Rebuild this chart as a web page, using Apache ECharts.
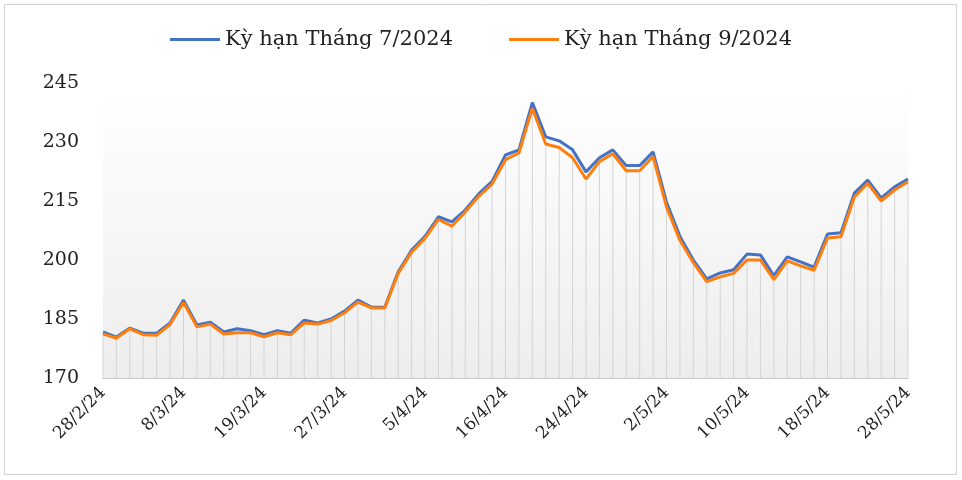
<!DOCTYPE html><html><head><meta charset="utf-8"><script src="https://cdn.jsdelivr.net/npm/echarts@6/dist/echarts.min.js"></script></head><body style="margin:0"><div id="c" style="width:962px;height:480px"></div><script>
const labels=[];
const labelDates=['28/2/24','8/3/24','19/3/24','27/3/24','5/4/24','16/4/24','24/4/24','2/5/24','10/5/24','18/5/24','28/5/24'];
for(let i=0;i<61;i++)labels.push(i%6===0?labelDates[i/6]:'d'+i);
const july=[181.7,180.4,182.7,181.4,181.4,184,189.8,183.5,184.2,181.7,182.5,182,181,182,181.4,184.7,184,185,187,189.8,188,188,197,202.5,206,211,209.7,212.7,216.8,220,226.7,228,240,231.3,230.3,228,222.4,226,228,224,224,227.5,214.7,206,200,195.2,196.7,197.5,201.5,201.3,196,200.8,199.5,198.2,206.6,206.9,217,220.3,215.8,218.6,220.6];
const sept=[181.2,180.1,182.5,181,180.9,183.6,189.2,183,183.7,181.2,181.5,181.5,180.5,181.5,181,184,183.7,184.6,186.6,189.3,187.8,187.8,196.6,202,205.5,210.3,208.6,212.2,216.2,219.3,225.5,227.2,238.6,229.5,228.6,226,220.6,225,227,222.7,222.7,226.3,213.5,205,199.3,194.5,195.7,196.6,200,200,195,199.8,198.5,197.4,205.6,205.9,216,219.5,215,217.8,219.9];
const ch=echarts.init(document.getElementById('c'));
ch.setOption({
 animation:false,
 graphic:[{type:'rect',shape:{x:4.5,y:4.5,width:952,height:470},style:{fill:'#fff',stroke:'#d0d0d0',lineWidth:1},z:-10}],
 legend:{data:['Kỳ hạn Tháng 7/2024','Kỳ hạn Tháng 9/2024'],top:24,left:'center',itemWidth:50,itemHeight:3,itemGap:56,textStyle:{fontFamily:'DejaVu Serif',fontSize:21,color:'#222'},icon:'rect'},
 grid:{left:103,right:54,top:83,bottom:102,show:true,borderWidth:0,backgroundColor:{type:'linear',x:0,y:0,x2:0,y2:1,colorStops:[{offset:0,color:'#ffffff'},{offset:1,color:'#ededed'}]}},
 xAxis:{type:'category',data:labels,boundaryGap:false,
  axisLine:{lineStyle:{color:'#c8c8c8'}},axisTick:{show:false},
  axisLabel:{interval:5,rotate:45,fontFamily:'DejaVu Serif',fontSize:17,color:'#222',margin:12},
  splitLine:{show:false}},
 yAxis:{type:'value',min:170,max:245,interval:15,axisLine:{show:false},axisTick:{show:false},
  axisLabel:{fontFamily:'DejaVu Serif',fontSize:19,color:'#222',margin:24},splitLine:{show:false}},
 series:[
  {name:'drop',type:'bar',data:sept,barWidth:1,itemStyle:{color:'#d4d4d4'},silent:true,z:1},
  {name:'Kỳ hạn Tháng 7/2024',type:'line',data:july,symbol:'none',lineStyle:{width:3,color:'#4472c4'},itemStyle:{color:'#4472c4'},z:3},
  {name:'Kỳ hạn Tháng 9/2024',type:'line',data:sept,symbol:'none',lineStyle:{width:3,color:'#ff7f0e'},itemStyle:{color:'#ff7f0e'},z:4}
 ]
});
</script></body></html>
